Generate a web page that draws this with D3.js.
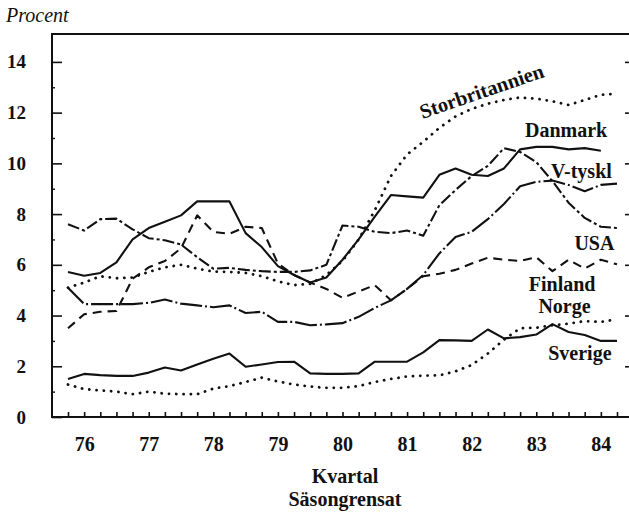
<!DOCTYPE html>
<html>
<head>
<meta charset="utf-8">
<script src="https://cdn.jsdelivr.net/npm/d3@7"></script>
<style>
  body { margin: 0; background: #fff; }
  svg text { font-family: "Liberation Serif", "Times New Roman", serif; font-weight: bold; fill: #111; }
</style>
</head>
<body>
<svg width="629" height="513"></svg>
<script>
// quarters 1976:1 .. 1984:3
const quarters = ["76:1","76:2","76:3","76:4","77:1","77:2","77:3","77:4","78:1","78:2","78:3","78:4",
  "79:1","79:2","79:3","79:4","80:1","80:2","80:3","80:4","81:1","81:2","81:3","81:4",
  "82:1","82:2","82:3","82:4","83:1","83:2","83:3","83:4","84:1","84:2","84:3"];
const years = ["76","77","78","79","80","81","82","83","84"];
const yTicks = [0, 2, 4, 6, 8, 10, 12, 14];
const yMinor = [1, 3, 5, 7, 9, 11, 13];

// unemployment, percent
const storbritannien = [5.1,5.3,5.55,5.47,5.5,5.72,5.9,6.0,5.85,5.73,5.72,5.68,5.55,5.35,5.2,5.25,5.6,6.15,7.0,8.15,9.5,10.35,10.85,11.4,11.85,12.15,12.35,12.5,12.6,12.55,12.45,12.3,12.5,12.7,12.75];
const danmark = [5.72,5.57,5.68,6.1,7.0,7.45,7.7,7.95,8.5,8.5,8.5,7.25,6.7,5.95,5.6,5.3,5.5,6.2,7.0,7.9,8.75,8.7,8.65,9.55,9.8,9.55,9.5,9.8,10.55,10.65,10.65,10.55,10.6,10.5];
const vTyskl = [5.1,4.45,4.45,4.45,4.45,4.5,4.63,4.47,4.4,4.33,4.4,4.1,4.15,3.75,3.75,3.62,3.65,3.7,3.95,4.3,4.6,5.05,5.6,6.45,7.1,7.3,7.8,8.4,9.1,9.27,9.32,9.15,8.9,9.15,9.2];
const usa = [7.6,7.35,7.8,7.82,7.4,7.05,6.97,6.8,6.3,5.85,5.88,5.8,5.75,5.72,5.72,5.78,6.0,7.55,7.5,7.3,7.25,7.35,7.15,8.35,8.95,9.5,9.9,10.6,10.45,10.05,9.3,8.45,7.85,7.5,7.45];
const finland = [3.5,4.05,4.15,4.18,5.45,5.9,6.15,6.65,7.95,7.3,7.22,7.5,7.45,6.05,5.6,5.3,5.05,4.7,4.95,5.2,4.6,5.05,5.55,5.65,5.8,6.05,6.28,6.2,6.15,6.3,5.75,6.2,5.85,6.2,6.02];
const norge = [1.28,1.1,1.05,1.0,0.9,1.0,0.92,0.9,0.9,1.12,1.22,1.38,1.55,1.4,1.28,1.2,1.15,1.15,1.22,1.38,1.5,1.6,1.63,1.64,1.8,2.05,2.5,3.05,3.5,3.52,3.62,3.68,3.78,3.75,3.85];
const sverige = [1.5,1.7,1.65,1.62,1.62,1.75,1.95,1.83,2.07,2.3,2.5,1.98,2.07,2.17,2.18,1.72,1.7,1.7,1.72,2.18,2.18,2.18,2.55,3.03,3.02,3.0,3.45,3.1,3.15,3.25,3.66,3.35,3.23,3.0,3.0];

// line styles per series
const series = [
  { values: storbritannien, dash: "0.1,7.2", cap: "round", w: 2.8 },
  { values: danmark, dash: null, cap: "butt", w: 2.1 },
  { values: vTyskl, dash: "22,3,2,3", cap: "butt", w: 2.1 },
  { values: usa, dash: "12,3,3,3", cap: "butt", w: 2.1 },
  { values: finland, dash: "9,6", cap: "butt", w: 2.1 },
  { values: norge, dash: "0.1,7.2", cap: "round", w: 2.8 },
  { values: sverige, dash: null, cap: "butt", w: 2.1 }
];

// labels placed in data space (quarter index, percent)
const labels = [
  { text: "Danmark", q: 30.85, v: 11.04 },
  { text: "V-tyskl", q: 31.8, v: 9.42 },
  { text: "USA", q: 32.6, v: 6.59 },
  { text: "Finland", q: 30.6, v: 4.95 },
  { text: "Norge", q: 30.75, v: 4.1 },
  { text: "Sverige", q: 31.7, v: 2.25 }
];

window.addEventListener('load', () => {
  const svg = d3.select("svg");
  const left = 52, right = 631, top = 34, bottom = 417;

  const x = d3.scalePoint().domain(quarters).range([left + 16, right - 14]);
  const y = d3.scaleLinear().domain([0, 15.1]).range([bottom, top]);
  const xq = q => x(quarters[0]) + q * x.step();

  // frame
  svg.append("rect")
    .attr("x", left).attr("y", top)
    .attr("width", right - left).attr("height", bottom - top)
    .attr("fill", "none").attr("stroke", "#111").attr("stroke-width", 2);

  // left axis, ticks pointing inward
  const gy = svg.append("g").attr("transform", "translate(" + left + ",0)")
    .call(d3.axisLeft(y).tickValues(yTicks).tickSize(-10).tickPadding(26).tickFormat(d3.format("d")));
  gy.attr("font-size", 19).attr("font-family", null);
  gy.select(".domain").remove();
  gy.selectAll("line").attr("stroke", "#111").attr("stroke-width", 1.6);

  const gm = svg.append("g").attr("transform", "translate(" + left + ",0)")
    .call(d3.axisLeft(y).tickValues(yMinor).tickSize(-3).tickFormat(""));
  gm.select(".domain").remove();
  gm.selectAll("line").attr("stroke", "#111").attr("stroke-width", 1.4);

  // right axis ticks
  const gr = svg.append("g").attr("transform", "translate(" + right + ",0)")
    .call(d3.axisRight(y).tickValues(yTicks.slice(1)).tickSize(-6).tickFormat(""));
  gr.select(".domain").remove();
  gr.selectAll("line").attr("stroke", "#111").attr("stroke-width", 1.6);

  // bottom axis: quarter ticks
  const gx = svg.append("g").attr("transform", "translate(0," + bottom + ")")
    .call(d3.axisBottom(x).tickSize(-5).tickFormat(""));
  gx.select(".domain").remove();
  gx.selectAll("line").attr("stroke", "#111").attr("stroke-width", 1.6);

  // year labels under the 2nd quarter
  const gl = svg.append("g").attr("transform", "translate(0," + bottom + ")")
    .call(d3.axisBottom(x).tickValues(years.map(d => d + ":2")).tickSize(0).tickPadding(20)
      .tickFormat(d => d.split(":")[0]));
  gl.attr("font-size", 20).attr("font-family", null);
  gl.select(".domain").remove();

  // series lines
  const line = d3.line().x((d, i) => x(quarters[i])).y(d => y(d));
  svg.append("g").selectAll("path")
    .data(series)
    .enter().append("path")
    .attr("d", d => line(d.values))
    .attr("fill", "none")
    .attr("stroke", "#111")
    .attr("stroke-width", d => d.w)
    .attr("stroke-linecap", d => d.cap)
    .attr("stroke-linejoin", "round")
    .attr("stroke-dasharray", d => d.dash);

  // series labels
  svg.append("g").selectAll("text")
    .data(labels)
    .enter().append("text")
    .attr("x", d => xq(d.q))
    .attr("y", d => y(d.v))
    .attr("text-anchor", "middle")
    .style("font-size", "20px")
    .text(d => d.text);

  svg.append("text")
    .attr("transform", "translate(" + xq(21.95) + "," + y(11.75) + ") rotate(-19)")
    .style("font-size", "20.5px")
    .text("Storbritannien");

  // titles
  svg.append("text").attr("x", 6).attr("y", 22)
    .style("font-style", "italic").style("font-weight", "normal").style("font-size", "20px")
    .text("Procent");
  svg.append("text").attr("x", 345).attr("y", 483).attr("text-anchor", "middle")
    .style("font-size", "20px").text("Kvartal");
  svg.append("text").attr("x", 345).attr("y", 506).attr("text-anchor", "middle")
    .style("font-size", "20px").text("Säsongrensat");
});
</script>
</body>
</html>
